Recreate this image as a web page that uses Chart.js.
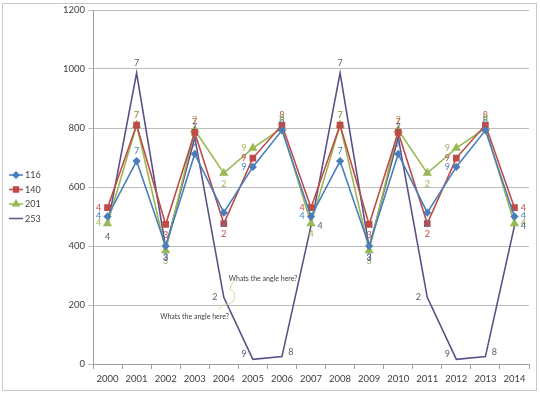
<!DOCTYPE html>
<html>
<head>
<meta charset="utf-8">
<script src="https://cdn.jsdelivr.net/npm/chart.js@4/dist/chart.umd.min.js"></script>
<style>
  html, body { margin: 0; padding: 0; background: #fff; }
  #wrap { width: 540px; height: 394px; position: relative; }
</style>
</head>
<body>
<div id="wrap"><canvas id="chart"></canvas></div>
<script>
const years = ["2000", "2001", "2002", "2003", "2004", "2005", "2006", "2007",
  "2008", "2009", "2010", "2011", "2012", "2013", "2014"];

const s116 = [500, 688, 400, 712, 513, 668, 792, 500, 688, 400, 712, 513, 668, 792, 500];
const s140 = [530, 810, 473, 785, 476, 698, 810, 530, 810, 473, 785, 476, 698, 810, 530];
const s201 = [476, 810, 385, 793, 647, 732, 800, 476, 810, 385, 793, 647, 732, 800, 476];
const s253 = [468, 986, 395, 768, 226, 16, 25, 468, 986, 395, 768, 226, 16, 25, 468];

// texte des etiquettes de donnees
const pointLabels = ["4", "7", "3", "7", "2", "9", "8", "4", "7", "3", "7", "2", "9", "8", "4"];

const yTicks = [0, 200, 400, 600, 800, 1000, 1200];
const note = "Whats the angle here?";

const FONT = "Lato";

// ou placer l'etiquette de chaque point
function placeLabel(series, i) {
  if (i === 14) return "right";
  if (series === "253") {
    if (i === 7) return "right";
    return ["below", "above", "below", "above", "left", "left", "right"][i % 7];
  }
  if (series === "201" && i === 7) return "below";
  return ["left", "above", "below", "above", "below", "left", "above"][i % 7];
}

const dataLabels = {
  id: "dataLabels",
  afterDatasetsDraw(chart) {
    const ctx = chart.ctx;
    ctx.save();
    ctx.font = "9px " + FONT;
    ctx.textAlign = "center";
    ctx.textBaseline = "middle";
    chart.data.datasets.forEach((ds, di) => {
      const meta = chart.getDatasetMeta(di);
      ctx.fillStyle = ds.labelColor;
      meta.data.forEach((pt, i) => {
        const pos = placeLabel(ds.label, i);
        let x = pt.x, y = pt.y;
        if (pos === "above") y -= 10;
        if (pos === "below") y += 11;
        if (pos === "left") x -= 9;
        if (pos === "right") x += 9;
        if (ds.label === "253" && (i % 7 === 5 || i % 7 === 6)) y -= 5;
        ctx.fillText(pointLabels[i], x, y);
      });
    });
    ctx.restore();
  }
};

const extras = {
  id: "extras",
  afterDraw(chart) {
    const ctx = chart.ctx;
    ctx.save();
    // cadre du graphique
    ctx.strokeStyle = "#c8c8c8";
    ctx.lineWidth = 1;
    ctx.strokeRect(2.5, 3.5, 534, 387);

    // legende a gauche
    const items = [
      { name: "116", color: "#4a7ebb", style: "rectRot", r: 3 },
      { name: "140", color: "#be4b48", style: "rect", r: 3.5 },
      { name: "201", color: "#98b954", style: "triangle", r: 3.5 },
      { name: "253", color: "#5b5187", style: false, r: 0 }
    ];
    ctx.font = "9px " + FONT;
    ctx.textBaseline = "middle";
    ctx.textAlign = "left";
    items.forEach((it, k) => {
      const y = 175 + k * 14.5;
      ctx.strokeStyle = it.color;
      ctx.lineWidth = 1.5;
      ctx.beginPath();
      ctx.moveTo(9, y);
      ctx.lineTo(23, y);
      ctx.stroke();
      if (it.style) {
        Chart.helpers.drawPoint(ctx, { pointStyle: it.style, radius: it.r, borderWidth: 1, rotation: 0 }, 16, y);
        ctx.fillStyle = it.color;
        ctx.fill();
      }
      ctx.fillStyle = "#404040";
      ctx.fillText(it.name, 25, y + 0.5);
    });

    // annotation autour du point 2004 de la serie 253
    const pt = chart.getDatasetMeta(3).data[4];
    const px = pt.x, py = pt.y;
    ctx.strokeStyle = "#cfdc98";
    ctx.lineWidth = 1;
    ctx.beginPath();
    ctx.arc(px + 3, py - 1, 8, -1.3, 1.9);
    ctx.stroke();
    ctx.beginPath();
    ctx.moveTo(px + 6, py - 9);
    ctx.lineTo(px + 9, py - 15);
    ctx.moveTo(px - 1, py + 7);
    ctx.lineTo(px - 5, py + 12);
    ctx.stroke();
    ctx.fillStyle = "#404040";
    ctx.font = "7px " + FONT;
    ctx.textAlign = "left";
    ctx.fillText(note, px + 5, py - 19);
    ctx.textAlign = "right";
    ctx.fillText(note, px + 5, py + 19);
    ctx.restore();
  }
};

const ctx = document.getElementById("chart").getContext("2d");
new Chart(ctx, {
  type: "line",
  data: {
    labels: years,
    datasets: [
      {
        label: "116",
        data: s116,
        borderColor: "#4a7ebb",
        backgroundColor: "#4a7ebb",
        labelColor: "#4a7ebb",
        pointStyle: "rectRot",
        pointRadius: 3,
        borderWidth: 1.6,
        fill: false,
      },
      {
        label: "140",
        data: s140,
        borderColor: "#be4b48",
        backgroundColor: "#be4b48",
        labelColor: "#be4b48",
        pointStyle: "rect",
        pointRadius: 3.6,
        borderWidth: 1.6,
        fill: false,
      },
      {
        label: "201",
        data: s201,
        borderColor: "#98b954",
        backgroundColor: "#98b954",
        labelColor: "#a2b35a",
        pointStyle: "triangle",
        pointRadius: 3.8,
        borderWidth: 1.6,
        fill: false,
      },
      {
        label: "253",
        data: s253,
        borderColor: "#5b5187",
        backgroundColor: "#5b5187",
        labelColor: "#5a5a70",
        pointRadius: 0,
        borderWidth: 1.6,
        fill: false,
      },
    ],
  },
  options: {
    responsive: true,
    maintainAspectRatio: false,
    animation: false,
    layout: { padding: { left: 53, right: 11, top: 10, bottom: 0 } },
    plugins: {
      legend: { display: false },
      tooltip: { enabled: false },
    },
    elements: { line: { tension: 0 } },
    scales: {
      x: {
        type: "category",
        offset: true,
        grid: {
          offset: true,
          drawOnChartArea: false,
          drawTicks: true,
          tickLength: 5,
          color: "#a0a0a0",
        },
        border: { color: "#a0a0a0" },
        ticks: {
          color: "#404040",
          font: { family: FONT, size: 9.5 },
          padding: 4,
          maxRotation: 0,
          autoSkip: false,
        },
        afterFit(scale) { scale.height = 30; },
      },
      y: {
        min: 0,
        max: 1200,
        afterBuildTicks(scale) { scale.ticks = yTicks.map((v) => ({ value: v })); },
        grid: {
          color: "#bdbdbd",
          tickLength: 5,
        },
        border: { color: "#a0a0a0" },
        ticks: {
          color: "#404040",
          font: { family: FONT, size: 9.5 },
          padding: 3,
          callback: (v) => String(v),
        },
        afterFit(scale) { scale.width = 40; },
      },
    },
  },
  plugins: [dataLabels, extras],
});
</script>
</body>
</html>
